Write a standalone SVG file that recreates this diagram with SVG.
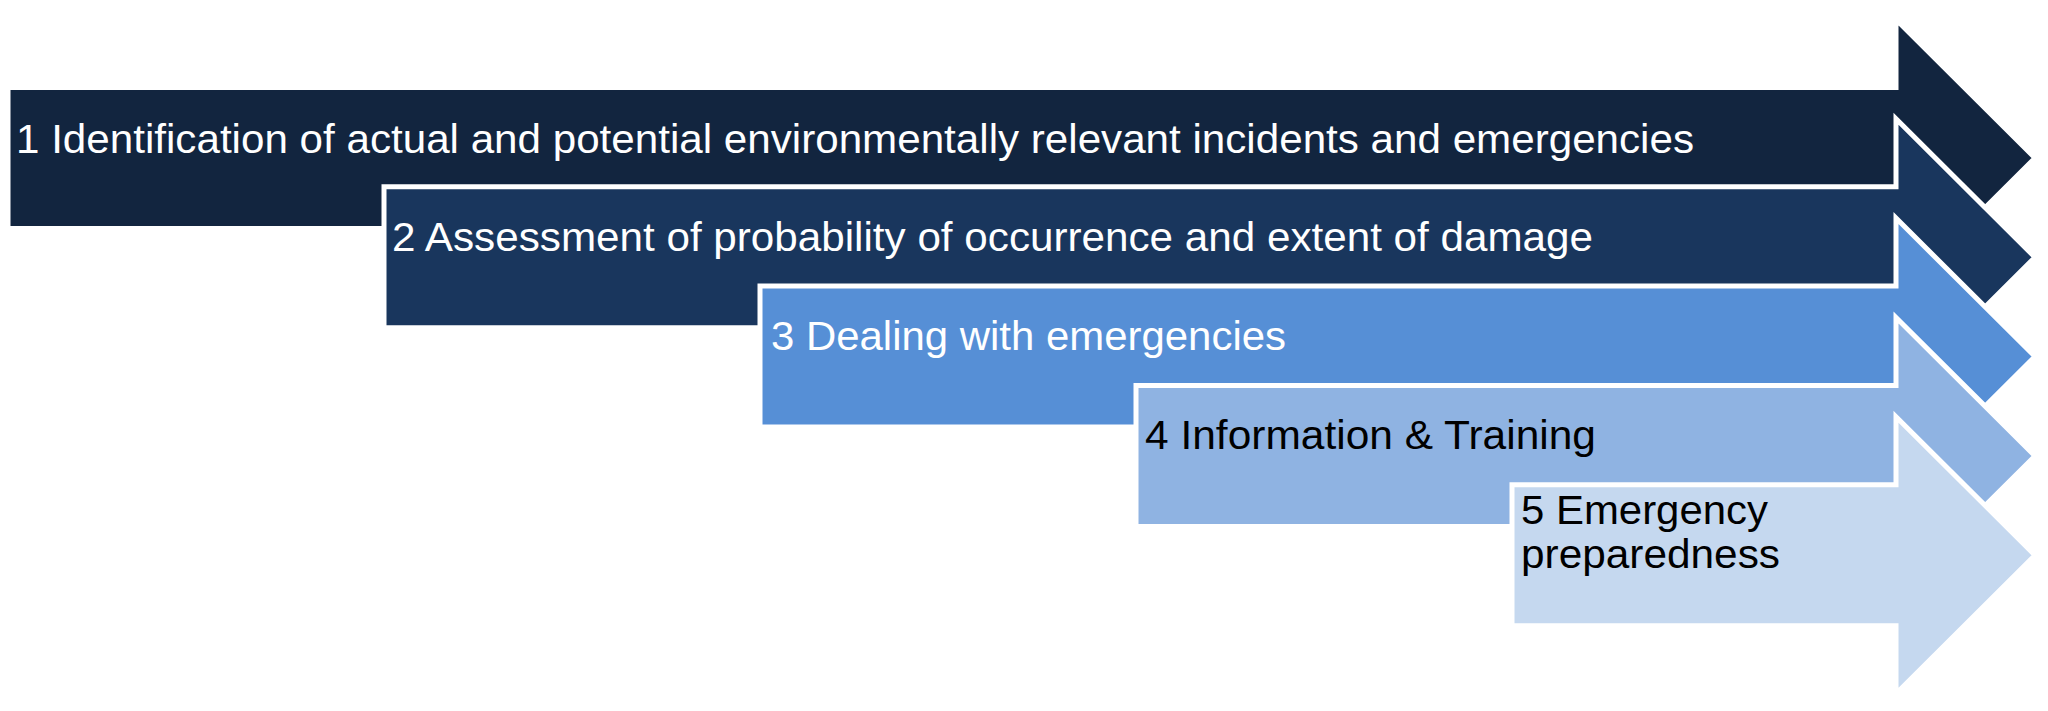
<svg xmlns="http://www.w3.org/2000/svg" width="2048" height="711" viewBox="0 0 2048 711">
<style>
.a{stroke:#fff;stroke-width:5;stroke-linejoin:miter}
.t{font-family:"Liberation Sans",Arial,sans-serif;font-size:40px}
.w{fill:#fff}.k{fill:#000}
</style>
<rect width="2048" height="711" fill="#fff"/>
<g id="n1"><path class="a" fill="#12253f" d="M8,87.5H1896V19.5L2035,158L1896,296.5V228.5H8Z"/><text class="t w" x="16" y="153" textLength="1678" lengthAdjust="spacingAndGlyphs">1 Identification of actual and potential environmentally relevant incidents and emergencies</text></g>
<g id="n2"><path class="a" fill="#19365d" d="M384,186.8H1896V118.8L2035,257.3L1896,395.8V327.8H384Z"/><text class="t w" x="392" y="251" textLength="1201" lengthAdjust="spacingAndGlyphs">2 Assessment of probability of occurrence and extent of damage</text></g>
<g id="n3"><path class="a" fill="#568fd6" d="M760,286.1H1896V218.1L2035,356.6L1896,495.1V427.1H760Z"/><text class="t w" x="771" y="350" textLength="515" lengthAdjust="spacingAndGlyphs">3 Dealing with emergencies</text></g>
<g id="n4"><path class="a" fill="#8fb3e2" d="M1136,385.4H1896V317.4L2035,455.9L1896,594.4V526.4H1136Z"/><text class="t k" x="1145" y="449" textLength="451" lengthAdjust="spacingAndGlyphs">4 Information &amp; Training</text></g>
<g id="n5"><path class="a" fill="#c5d8ef" d="M1512,484.7H1896V416.7L2035,555.2L1896,693.7V625.7H1512Z"/><text class="t k" x="1521" y="524" textLength="247" lengthAdjust="spacingAndGlyphs">5 Emergency</text><text class="t k" x="1521" y="568" textLength="259" lengthAdjust="spacingAndGlyphs">preparedness</text></g>
<g id="connectors"/>
</svg>
